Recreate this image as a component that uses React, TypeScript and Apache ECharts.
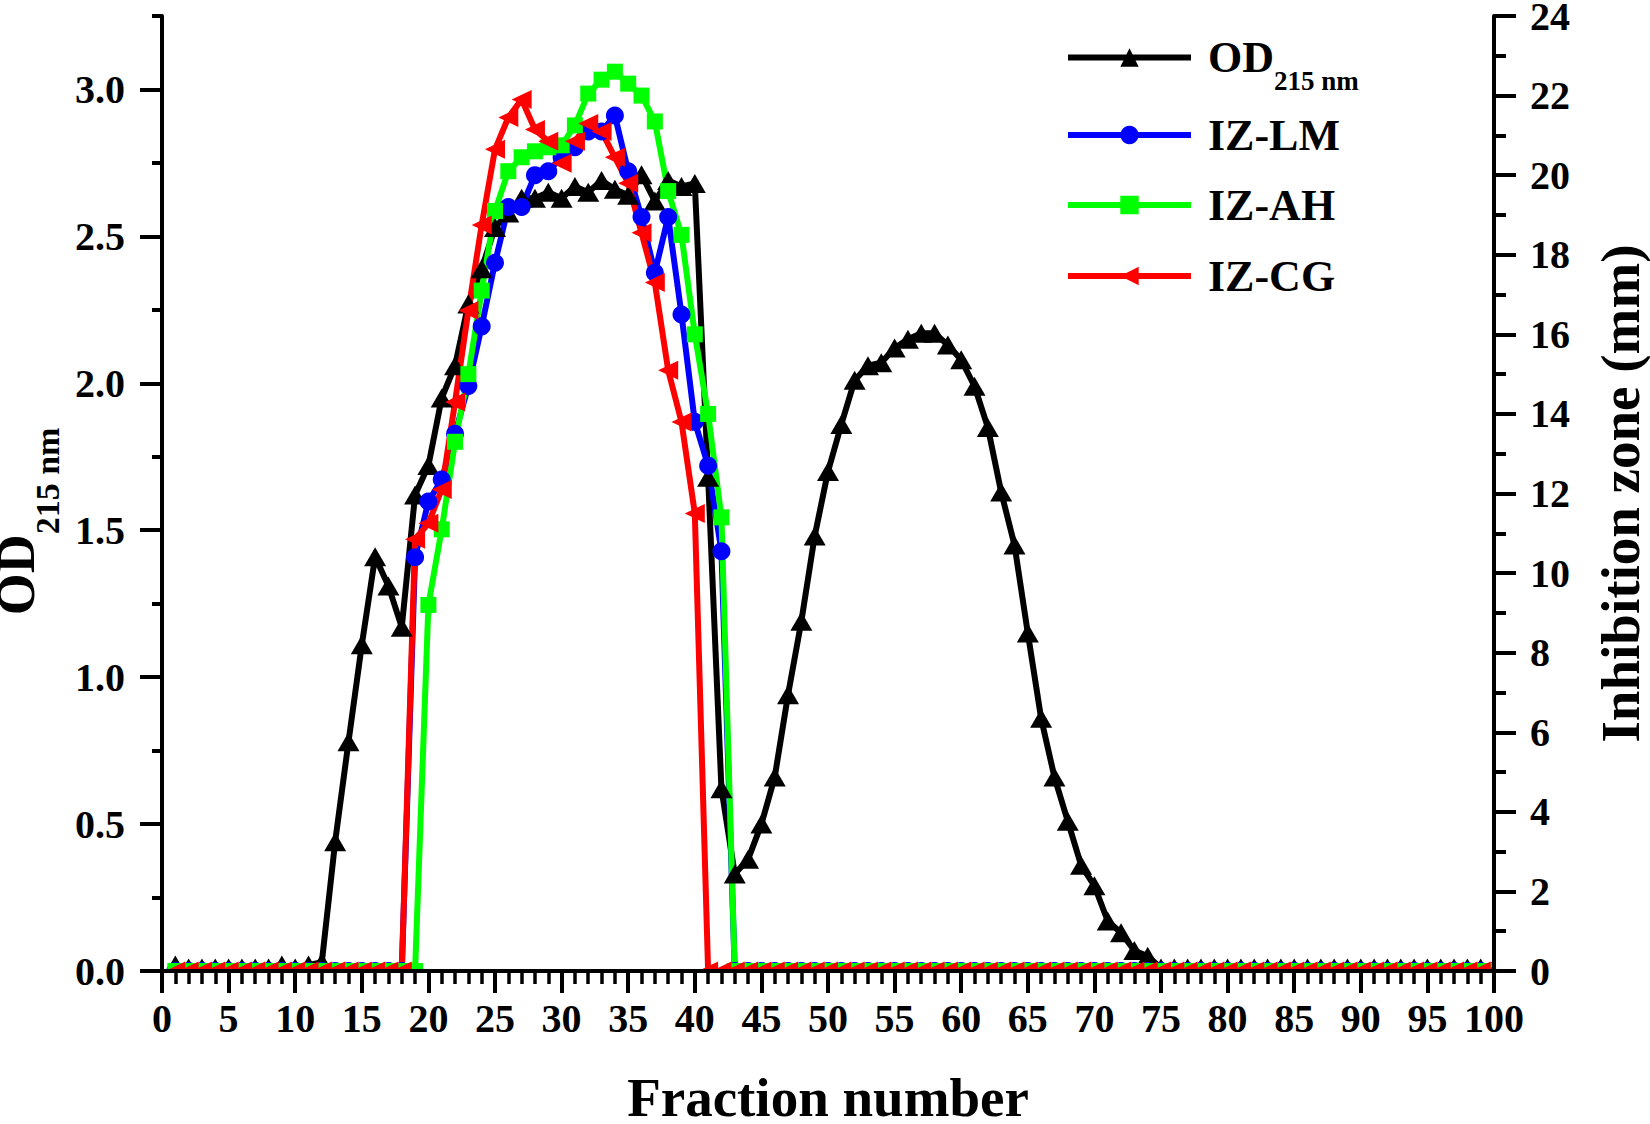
import React, { useEffect, useRef } from 'react';
import * as echarts from 'echarts';

const FONT = '"Liberation Serif", "Times New Roman", serif';

// Fraction numbers 1..100
const fractions: number[] = Array.from({ length: 100 }, (_, i) => i + 1);

// OD 215 nm (left axis)
const od215: number[] = [
  0.02, 0.01, 0.01, 0.01, 0.01, 0.01, 0.01, 0.01, 0.02, 0.01,
  0.02, 0.03, 0.44, 0.78, 1.11, 1.41, 1.31, 1.17, 1.62, 1.72,
  1.95, 2.06, 2.27, 2.39, 2.53, 2.58, 2.63, 2.63, 2.65, 2.63,
  2.67, 2.65, 2.69, 2.66, 2.64, 2.71, 2.62, 2.69, 2.67, 2.68,
  1.68, 0.62, 0.33, 0.38, 0.50, 0.66, 0.94, 1.19, 1.48, 1.70,
  1.86, 2.01, 2.06, 2.07, 2.12, 2.15, 2.17, 2.17, 2.13, 2.08,
  1.99, 1.85, 1.63, 1.45, 1.15, 0.86, 0.66, 0.51, 0.36, 0.29,
  0.17, 0.13, 0.07, 0.05, 0.01, 0.01, 0.01, 0.01, 0.01, 0.01,
  0.01, 0.01, 0.01, 0.01, 0.01, 0.01, 0.01, 0.01, 0.01, 0.01,
  0.01, 0.01, 0.01, 0.01, 0.01, 0.01, 0.01, 0.01, 0.01, 0.01,
];

// Inhibition zones (mm, right axis)
const izLM: number[] = [
  0, 0, 0, 0, 0, 0, 0, 0, 0, 0,
  0, 0, 0, 0, 0, 0, 0, 0, 10.4, 11.8,
  12.35, 13.5, 14.7, 16.2, 17.8, 19.2, 19.2, 20.0, 20.1, 20.45,
  20.7, 21.1, 21.1, 21.5, 20.1, 18.95, 17.55, 18.95, 16.5, 13.8,
  12.7, 10.55, 0, 0, 0, 0, 0, 0, 0, 0,
  0, 0, 0, 0, 0, 0, 0, 0, 0, 0,
  0, 0, 0, 0, 0, 0, 0, 0, 0, 0,
  0, 0, 0, 0, 0, 0, 0, 0, 0, 0,
  0, 0, 0, 0, 0, 0, 0, 0, 0, 0,
  0, 0, 0, 0, 0, 0, 0, 0, 0, 0,
];

const izAH: number[] = [
  0, 0, 0, 0, 0, 0, 0, 0, 0, 0,
  0, 0, 0, 0, 0, 0, 0, 0, 0, 9.2,
  11.1, 13.3, 15.0, 17.1, 19.1, 20.1, 20.45, 20.6, 20.7, 20.75,
  21.25, 22.05, 22.4, 22.6, 22.3, 22.0, 21.35, 19.6, 18.5, 16.0,
  14.0, 11.4, 0, 0, 0, 0, 0, 0, 0, 0,
  0, 0, 0, 0, 0, 0, 0, 0, 0, 0,
  0, 0, 0, 0, 0, 0, 0, 0, 0, 0,
  0, 0, 0, 0, 0, 0, 0, 0, 0, 0,
  0, 0, 0, 0, 0, 0, 0, 0, 0, 0,
  0, 0, 0, 0, 0, 0, 0, 0, 0, 0,
];

const izCG: number[] = [
  0, 0, 0, 0, 0, 0, 0, 0, 0, 0,
  0, 0, 0, 0, 0, 0, 0, 0, 10.85, 11.25,
  12.1, 14.3, 16.6, 18.75, 20.65, 21.45, 21.9, 21.15, 20.85, 20.3,
  20.85, 21.3, 21.1, 20.45, 19.8, 18.55, 17.3, 15.1, 13.8, 11.5,
  0, 0, 0, 0, 0, 0, 0, 0, 0, 0,
  0, 0, 0, 0, 0, 0, 0, 0, 0, 0,
  0, 0, 0, 0, 0, 0, 0, 0, 0, 0,
  0, 0, 0, 0, 0, 0, 0, 0, 0, 0,
  0, 0, 0, 0, 0, 0, 0, 0, 0, 0,
  0, 0, 0, 0, 0, 0, 0, 0, 0, 0,
];

// Left axis tick positions (for long major ticks via a category helper axis)
const leftTickCats: string[] = ['0', '0.25', '0.5', '0.75', '1', '1.25', '1.5', '1.75', '2', '2.25', '2.5', '2.75', '3', '3.25'];

const seriesNames = ['OD215 nm', 'IZ-LM', 'IZ-AH', 'IZ-CG'];

const pairs = (vals: number[]) => fractions.map((f, i) => [f, vals[i]]);

const tickFont = { fontFamily: FONT, fontSize: 40, fontWeight: 'bold' as const, color: '#000' };
const titleFont = { fontFamily: FONT, fontSize: 55, fontWeight: 'bold' as const, color: '#000' };

const LINE_W = 6;

export default function App() {
  const ref = useRef<HTMLDivElement>(null);

  useEffect(() => {
    document.body.style.margin = '0';
    if (!ref.current) return;
    const chart = echarts.init(ref.current, undefined, { renderer: 'svg' });

    const legendBase = (name: string, top: number) => ({
      data: [name],
      left: 1065,
      top,
      padding: 0,
      orient: 'vertical',
      itemWidth: 123,
      itemHeight: 23,
      selectedMode: false,
      z: 10,
      lineStyle: { width: LINE_W },
      formatter: (n: string) => (n.startsWith('OD') ? '{a|OD}{b|215 nm}' : n),
      textStyle: {
        fontFamily: FONT,
        fontSize: 44,
        lineHeight: 44,
        fontWeight: 'bold',
        color: '#000',
        padding: [0, 0, 0, 12],
        rich: {
          a: { fontFamily: FONT, fontSize: 44, lineHeight: 44, fontWeight: 'bold', color: '#000' },
          b: { fontFamily: FONT, fontSize: 27, lineHeight: 27, fontWeight: 'bold', color: '#000', padding: [46, 0, 0, 0] },
        },
      },
    });

    const mkLine = (color: string) => ({ color, width: LINE_W, type: 'solid' });

    const option: any = {
      animation: false,
      backgroundColor: '#fff',
      grid: { left: 162, right: 156, top: 16, bottom: 153, containLabel: false, outerBoundsMode: 'none' },
      legend: [
        legendBase(seriesNames[0], 21),
        legendBase(seriesNames[1], 113),
        legendBase(seriesNames[2], 183),
        legendBase(seriesNames[3], 254),
      ],
      xAxis: {
        type: 'value',
        min: 0,
        max: 100,
        interval: 5,
        z: 10,
        axisLine: { show: true, onZero: false, lineStyle: { color: '#000', width: 4 } },
        axisTick: { show: true, length: 22, lineStyle: { color: '#000', width: 4 } },
        minorTick: { show: true, splitNumber: 5, length: 13, lineStyle: { color: '#000', width: 3.5 } },
        splitLine: { show: false },
        axisLabel: { ...tickFont, margin: 27 },
        name: 'Fraction number',
        nameLocation: 'middle',
        nameGap: 106,
        nameTextStyle: { ...titleFont, lineHeight: 40 },
      },
      yAxis: [
        {
          type: 'value',
          position: 'left',
          min: 0,
          max: 3.25,
          interval: 0.25,
          z: 10,
          axisLine: { show: true, onZero: false, lineStyle: { color: '#000', width: 4 } },
          axisTick: { show: true, length: 10, lineStyle: { color: '#000', width: 4 } },
          splitLine: { show: false },
          axisLabel: {
            ...tickFont,
            margin: 37,
            formatter: (v: number) => (Math.abs(v * 2 - Math.round(v * 2)) < 1e-6 ? v.toFixed(1) : ''),
          },
          name: '{a|OD}{b|215 nm}',
          nameLocation: 'middle',
          nameRotate: 90,
          nameGap: 110,
          nameTextStyle: {
            ...titleFont,
            lineHeight: 44,
            rich: {
              a: { ...titleFont, fontSize: 54, lineHeight: 44 },
              b: { fontFamily: FONT, fontSize: 34, lineHeight: 34, fontWeight: 'bold', color: '#000', padding: [62, 56, 0, 0] },
            },
          },
        },
        {
          type: 'category',
          position: 'left',
          data: leftTickCats,
          boundaryGap: false,
          z: 10,
          axisLine: { show: false },
          axisTick: {
            show: true,
            length: 22,
            interval: (i: number) => i % 2 === 0 && i < 13,
            lineStyle: { color: '#000', width: 4 },
          },
          axisLabel: { show: false },
          splitLine: { show: false },
        },
        {
          type: 'value',
          position: 'right',
          min: 0,
          max: 24,
          interval: 2,
          z: 10,
          axisLine: { show: true, onZero: false, lineStyle: { color: '#000', width: 4 } },
          axisTick: { show: true, length: 22, lineStyle: { color: '#000', width: 4 } },
          minorTick: { show: true, splitNumber: 2, length: 12, lineStyle: { color: '#000', width: 4 } },
          splitLine: { show: false },
          axisLabel: { ...tickFont, margin: 36, lineHeight: 30 },
          name: 'Inhibition zone (mm)',
          nameLocation: 'middle',
          nameRotate: 90,
          nameGap: 106,
          nameTextStyle: { ...titleFont, lineHeight: 40 },
        },
      ],
      graphic: [
        { type: 'rect', z: 5, shape: { x: 140, y: 973, width: 1380, height: 18 }, style: { fill: '#fff' } },
        { type: 'rect', z: 5, shape: { x: 1496, y: 940, width: 24, height: 31 }, style: { fill: '#fff' } },
      ],
      series: [
        {
          name: seriesNames[0],
          type: 'line',
          yAxisIndex: 0,
          z: 2,
          data: pairs(od215),
          symbol: 'triangle',
          symbolSize: [22, 19],
          lineStyle: mkLine('#000000'),
          itemStyle: { color: '#000000' },
          emphasis: { disabled: true },
        },
        {
          name: seriesNames[1],
          type: 'line',
          yAxisIndex: 2,
          z: 2,
          data: pairs(izLM),
          symbol: 'circle',
          symbolSize: 18,
          lineStyle: mkLine('#0000ff'),
          itemStyle: { color: '#0000ff' },
          emphasis: { disabled: true },
        },
        {
          name: seriesNames[2],
          type: 'line',
          yAxisIndex: 2,
          z: 2,
          data: pairs(izAH),
          symbol: 'rect',
          symbolSize: 16,
          lineStyle: mkLine('#00ff00'),
          itemStyle: { color: '#00ff00' },
          emphasis: { disabled: true },
        },
        {
          name: seriesNames[3],
          type: 'line',
          yAxisIndex: 2,
          z: 2,
          data: pairs(izCG),
          symbol: 'path://M0,5L10,0L10,10Z',
          symbolSize: [20, 19],
          lineStyle: mkLine('#ff0000'),
          itemStyle: { color: '#ff0000' },
          emphasis: { disabled: true },
        },
      ],
    };

    chart.setOption(option);
    return () => chart.dispose();
  }, []);

  return <div ref={ref} style={{ width: 1650, height: 1124 }} />;
}
